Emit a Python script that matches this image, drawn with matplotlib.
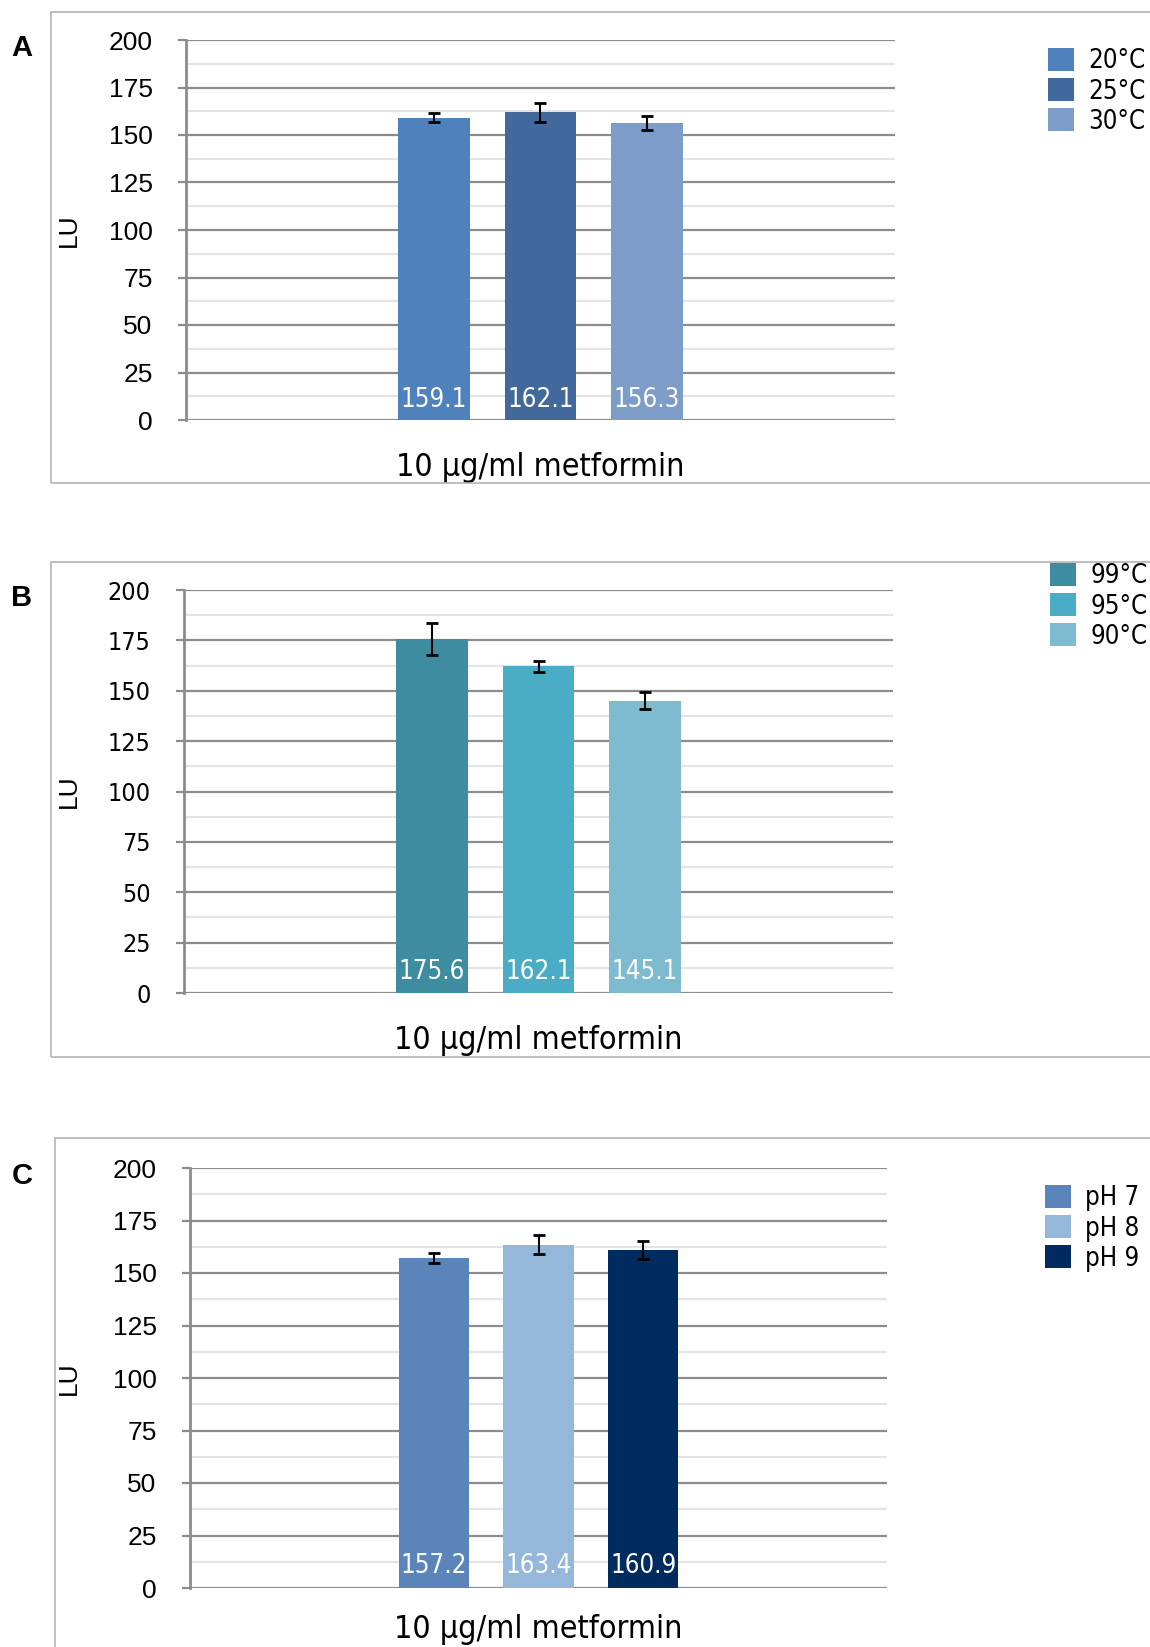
import matplotlib
matplotlib.use("Agg")
import matplotlib.pyplot as plt
from matplotlib.patches import Rectangle
from matplotlib import font_manager

W, H = 1150, 1647

category = "10 µg/ml metformin"
yticks = [0, 25, 50, 75, 100, 125, 150, 175, 200]

# Panel A: temperatura de incubación
labels_a = ["20°C", "25°C", "30°C"]
values_a = [159.1, 162.1, 156.3]
errors_a = [2.4, 5.0, 3.7]
colors_a = ["#4F81BD", "#41699C", "#7E9CC8"]

# Panel B: temperatura de calentamiento
labels_b = ["99°C", "95°C", "90°C"]
values_b = [175.6, 162.1, 145.1]
errors_b = [8.0, 2.9, 4.2]
colors_b = ["#3D8CA0", "#4BACC6", "#7FBBD0"]

# Panel C: pH
labels_c = ["pH 7", "pH 8", "pH 9"]
values_c = [157.2, 163.4, 160.9]
errors_c = [2.3, 4.5, 4.2]
colors_c = ["#5B85BA", "#95B7DA", "#002B5E"]

fig = plt.figure(figsize=(W / 100, H / 100), dpi=100)

CFONT = dict(family="DejaVu Sans", stretch="condensed")
GRID = "#8C8C8C"


def px_axes(l, t, r, b):
    return fig.add_axes([l / W, 1 - b / H, (r - l) / W, (b - t) / H])


def panel(letter, plot, box, leg, labels, values, errors, colors, tickfont,
          xpad=23):
    # caja del panel
    bl, bt, bb = box
    fig.patches.append(Rectangle((bl / W, 1 - bb / H), 1.2, (bb - bt) / H,
                                 transform=fig.transFigure, fill=False,
                                 edgecolor="#B4B4B4", lw=1.2, zorder=0))
    fig.text(22 / W, 1 - plot[1] / H - 8 / H, letter, fontsize=21, weight="bold",
             family="Liberation Sans", ha="center", va="center")

    ax = px_axes(*plot)
    x = [0, 1, 2]
    bars = ax.bar(x, values, width=0.67, color=colors, zorder=3)
    ax.errorbar(x, values, yerr=errors, fmt="none", ecolor="black",
                elinewidth=1.5, capsize=4.5, capthick=2, zorder=4)
    for xi, v in zip(x, values):
        ax.text(xi, 10.5, f"{v}", color="white", ha="center", va="center",
                fontsize=18.5, zorder=5, **CFONT)

    ax.set_xlim(1 - 3.33, 1 + 3.33)
    ax.set_ylim(0, 200)
    ax.set_yticks(yticks)
    ax.set_yticks([y + 12.5 for y in yticks[:-1]], minor=True)
    ax.yaxis.grid(True, which="major", color=GRID, lw=1.6, zorder=1)
    ax.yaxis.grid(True, which="minor", color="#E4E4E4", lw=1.6, zorder=1)
    ax.tick_params(axis="y", which="major", length=6, width=1.6, color=GRID,
                   pad=18)
    ax.tick_params(axis="y", which="minor", length=0)
    for t in ax.get_yticklabels():
        t.set_fontproperties(font_manager.FontProperties(**tickfont))
    ax.set_xticks([1])
    ax.set_xticklabels([category], fontsize=23, **CFONT)
    ax.tick_params(axis="x", length=0, pad=xpad)
    for s in ["top", "right", "bottom"]:
        ax.spines[s].set_visible(False)
    ax.spines["left"].set_color(GRID)
    ax.spines["left"].set_linewidth(2)
    ax.set_ylabel("LU", fontsize=19, family="Liberation Sans")
    ax.yaxis.set_label_coords((69 - plot[0]) / (plot[2] - plot[0]), 0.5)
    ax.yaxis.label.set_va("center")

    ax.legend(bars, labels, loc="upper left",
              bbox_to_anchor=(leg[0] / W, 1 - leg[1] / H),
              bbox_transform=fig.transFigure, frameon=False,
              prop=font_manager.FontProperties(size=18.5, **CFONT),
              handlelength=1.02, handleheight=1.02, labelspacing=0.14,
              handletextpad=0.55, borderpad=0, borderaxespad=0)
    return ax


panel("A", (186, 40, 895, 420), (51, 12, 483), (1048, 48),
      labels_a, values_a, errors_a, colors_a,
      dict(family="Liberation Sans", size=19))
panel("B", (184, 590, 893, 993), (51, 562, 1057), (1050, 563),
      labels_b, values_b, errors_b, colors_b,
      dict(size=18, **CFONT))
panel("C", (190, 1168, 887, 1588), (55, 1138, 1700), (1045, 1185),
      labels_c, values_c, errors_c, colors_c,
      dict(family="Liberation Sans", size=19), xpad=19)

fig.savefig("out.png", dpi=100)
